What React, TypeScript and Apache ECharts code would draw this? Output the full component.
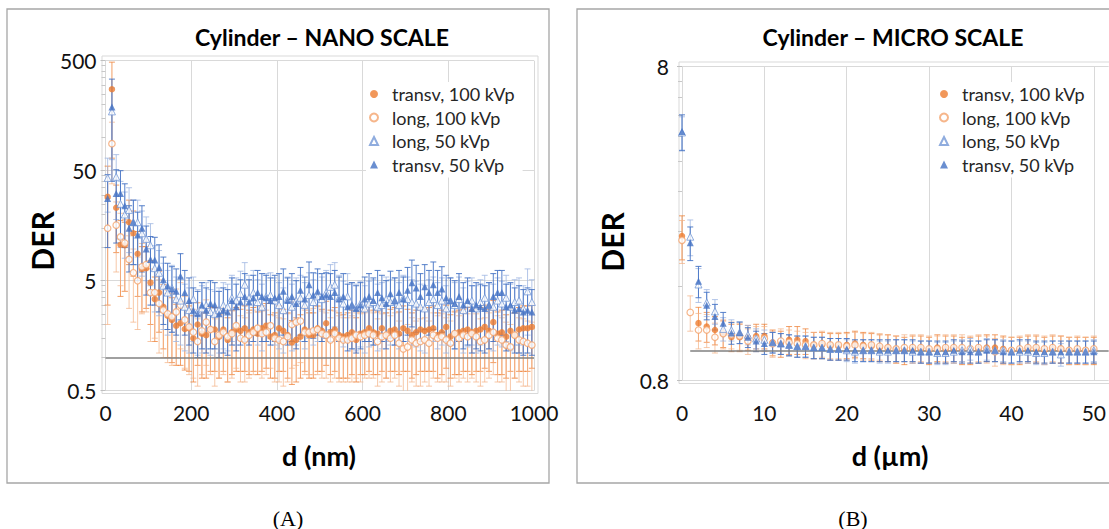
import React, { useEffect, useRef } from "react";
import * as echarts from "echarts";

// ---------- Panel A : nano scale ----------
const D_NANO = [5, 15, 25, 35, 45, 55, 65, 75, 85, 95, 105, 115, 125, 135, 145, 155, 165, 175, 185, 195, 205, 215, 225, 235, 245, 255, 265, 275, 285, 295, 305, 315, 325, 335, 345, 355, 365, 375, 385, 395, 405, 415, 425, 435, 445, 455, 465, 475, 485, 495, 505, 515, 525, 535, 545, 555, 565, 575, 585, 595, 605, 615, 625, 635, 645, 655, 665, 675, 685, 695, 705, 715, 725, 735, 745, 755, 765, 775, 785, 795, 805, 815, 825, 835, 845, 855, 865, 875, 885, 895, 905, 915, 925, 935, 945, 955, 965, 975, 985, 995];

const T100_NANO = [29, 275, 23, 10.6, 10.5, 17, 13.5, 8.8, 6.4, 6.5,
  4.8, 3.4, 3.9, 2.9, 2.4, 2.2, 1.95, 2.05, 1.82, 1.85,
  1.5, 2.0, 1.65, 1.6, 1.8, 1.8, 1.55, 1.8, 1.45, 1.7,
  1.8, 1.75, 1.85, 1.7, 1.8, 1.65, 1.85, 1.95, 1.55, 1.6,
  1.85, 1.75, 1.6, 1.37, 1.45, 1.55, 1.8, 1.6, 1.6, 1.85,
  1.75, 2.05, 1.7, 1.8, 1.6, 1.55, 1.6, 1.7, 1.45, 1.65,
  1.7, 1.85, 1.7, 1.65, 1.85, 1.6, 1.75, 1.8, 1.65, 1.85,
  1.75, 1.6, 1.7, 1.8, 1.75, 1.8, 1.85, 1.6, 1.7, 1.9,
  1.55, 1.65, 1.7, 1.75, 1.8, 1.7, 1.75, 1.8, 1.9, 1.75,
  2.1, 1.65, 1.7, 1.55, 1.75, 1.6, 1.8, 1.85, 1.85, 1.9];
const T100_NANO_ERR = [26, 210, 14, 7, 6.5, 10, 8, 5.2, 3.8, 3.7,
  2.8, 2.0, 2.2, 1.7, 1.4, 1.3, 1.1, 1.2, 1.05, 1.1,
  0.9, 1.15, 1.0, 0.95, 1.05, 1.05, 0.9, 1.05, 0.85, 1.0,
  1.05, 1.0, 1.1, 1.0, 1.05, 0.95, 1.1, 1.15, 0.9, 0.95,
  1.1, 1.0, 0.95, 0.8, 0.85, 0.9, 1.05, 0.95, 0.95, 1.1,
  1.0, 1.2, 1.0, 1.05, 0.95, 0.9, 0.95, 1.0, 0.85, 0.95,
  1.0, 1.1, 1.0, 0.95, 1.1, 0.95, 1.0, 1.05, 0.95, 1.1,
  1.0, 0.95, 1.0, 1.05, 1.0, 1.05, 1.1, 0.95, 1.0, 1.1,
  0.9, 0.95, 1.0, 1.0, 1.05, 1.0, 1.0, 1.05, 1.1, 1.0,
  1.2, 0.95, 1.0, 0.9, 1.0, 0.95, 1.05, 1.1, 1.1, 1.1];

const L100_NANO = [15, 88, 16, 12.5, 11, 7.8, 5.9, 5.0, 6.7, 7.0,
  3.9, 3.9, 3.1, 2.7, 2.5, 2.35, 2.6, 3.0, 2.2, 1.9,
  1.7, 1.4, 1.75, 2.1, 1.8, 1.4, 1.6, 1.7, 1.55, 1.65,
  1.95, 1.5, 1.45, 1.6, 1.7, 1.85, 1.65, 1.7, 1.95, 1.5,
  1.45, 1.4, 1.55, 2.0, 2.1, 2.15, 1.7, 1.7, 1.75, 1.8,
  1.65, 1.6, 1.45, 1.65, 1.5, 1.45, 1.45, 1.5, 1.6, 1.55,
  1.6, 1.65, 1.6, 1.4, 1.55, 1.6, 1.5, 1.6, 1.35, 1.2,
  1.25, 1.45, 1.35, 1.4, 1.45, 1.35, 1.6, 1.5, 1.55, 1.45,
  1.35, 1.65, 1.5, 1.6, 1.55, 1.65, 1.55, 1.4, 1.45, 1.6,
  1.7, 1.5, 1.45, 1.3, 1.25, 1.6, 1.45, 1.4, 1.35, 1.3];
const L100_NANO_ERR = [13, 50, 10, 8, 7, 5, 3.8, 3.2, 4.2, 4.4,
  2.5, 2.4, 2.0, 1.7, 1.6, 1.5, 1.6, 1.8, 1.4, 1.2,
  1.05, 0.85, 1.05, 1.25, 1.1, 0.85, 0.95, 1.0, 0.95, 1.0,
  1.15, 0.9, 0.85, 0.95, 1.0, 1.1, 1.0, 1.0, 1.15, 0.9,
  0.85, 0.85, 0.95, 1.2, 1.25, 1.25, 1.0, 1.0, 1.05, 1.1,
  1.0, 0.95, 0.85, 1.0, 0.9, 0.85, 0.85, 0.9, 0.95, 0.95,
  0.95, 1.0, 0.95, 0.85, 0.95, 0.95, 0.9, 0.95, 0.8, 0.7,
  0.75, 0.85, 0.8, 0.85, 0.85, 0.8, 0.95, 0.9, 0.95, 0.85,
  0.8, 1.0, 0.9, 0.95, 0.95, 1.0, 0.95, 0.85, 0.85, 0.95,
  1.0, 0.9, 0.85, 0.8, 0.75, 0.95, 0.85, 0.85, 0.8, 0.8];

const L50_NANO = [43, 173, 44, 25, 20, 22, 17, 17, 13.5, 12,
  10.5, 6.5, 5.9, 4.5, 3.9, 4.3, 3.4, 3.3, 2.9, 2.7,
  3.4, 2.6, 2.8, 3.0, 2.6, 2.5, 2.7, 3.0, 2.9, 3.5,
  3.3, 3.8, 4.6, 3.5, 3.9, 3.2, 2.9, 3.6, 3.7, 3.3,
  3.0, 2.7, 3.4, 2.9, 3.3, 3.5, 3.0, 3.7, 3.2, 3.6,
  3.4, 3.9, 4.4, 4.6, 3.5, 3.1, 3.6, 3.0, 2.9, 3.1,
  2.8, 3.1, 3.2, 2.9, 3.0, 3.4, 3.2, 3.3, 3.0, 3.5,
  3.4, 3.2, 3.1, 2.9, 2.8, 3.2, 3.4, 3.0, 3.3, 2.8,
  3.3, 3.0, 3.4, 2.7, 3.1, 3.3, 2.8, 3.2, 3.5, 3.0,
  2.9, 3.3, 3.1, 3.5, 2.9, 3.2, 3.3, 2.8, 4.0, 3.2];
const L50_NANO_ERR = [22, 110, 26, 15, 12, 13, 10, 10, 8, 7,
  6, 3.9, 3.5, 2.7, 2.3, 2.6, 2.0, 2.0, 1.75, 1.6,
  2.0, 1.55, 1.7, 1.8, 1.55, 1.5, 1.6, 1.8, 1.75, 2.1,
  2.0, 2.3, 2.7, 2.1, 2.3, 1.9, 1.75, 2.2, 2.2, 2.0,
  1.8, 1.6, 2.0, 1.75, 2.0, 2.1, 1.8, 2.2, 1.9, 2.2,
  2.0, 2.3, 2.6, 2.7, 2.1, 1.85, 2.2, 1.8, 1.75, 1.85,
  1.7, 1.85, 1.9, 1.75, 1.8, 2.0, 1.9, 2.0, 1.8, 2.1,
  2.0, 1.9, 1.85, 1.75, 1.7, 1.9, 2.0, 1.8, 2.0, 1.7,
  2.0, 1.8, 2.0, 1.6, 1.85, 2.0, 1.7, 1.9, 2.1, 1.8,
  1.75, 2.0, 1.85, 2.1, 1.75, 1.9, 2.0, 1.7, 2.4, 1.9];

const T50_NANO = [28, 190, 31, 31, 24, 15, 17, 13, 15, 9.7,
  7.8, 7.7, 6.6, 5.1, 4.5, 4.2, 4.0, 5.5, 3.9, 3.3,
  2.7, 2.5, 3.0, 2.7, 3.1, 3.0, 2.5, 2.7, 2.6, 3.3,
  2.9, 3.2, 3.6, 3.2, 3.5, 3.9, 3.6, 3.5, 3.3, 3.5,
  3.6, 4.0, 3.3, 3.6, 3.1, 4.1, 3.4, 4.6, 3.7, 4.0,
  3.6, 3.7, 3.6, 3.9, 3.4, 3.6, 2.9, 3.0, 2.8, 3.0,
  3.4, 3.6, 3.3, 3.9, 3.5, 3.1, 3.8, 3.3, 3.9, 3.4,
  4.1, 4.8, 4.3, 3.6, 4.4, 3.9, 4.6, 3.9, 4.2, 3.5,
  3.3, 3.1, 3.6, 3.0, 3.3, 2.8, 3.0, 2.9, 2.8, 3.0,
  3.6, 3.9, 3.9, 2.9, 3.0, 2.7, 2.8, 2.6, 2.7, 2.6];
const T50_NANO_ERR = [18, 150, 20, 19, 14, 9, 10, 8, 9, 6,
  4.8, 4.7, 4.0, 3.1, 2.7, 2.5, 2.4, 3.3, 2.3, 2.0,
  1.6, 1.5, 1.8, 1.6, 1.9, 1.8, 1.5, 1.6, 1.55, 2.0,
  1.75, 1.9, 2.2, 1.9, 2.1, 2.3, 2.2, 2.1, 2.0, 2.1,
  2.2, 2.4, 2.0, 2.2, 1.9, 2.5, 2.0, 2.8, 2.2, 2.4,
  2.2, 2.2, 2.2, 2.3, 2.0, 2.2, 1.75, 1.8, 1.7, 1.8,
  2.0, 2.2, 2.0, 2.3, 2.1, 1.9, 2.3, 2.0, 2.3, 2.0,
  2.5, 2.9, 2.6, 2.2, 2.6, 2.3, 2.8, 2.3, 2.5, 2.1,
  2.0, 1.9, 2.2, 1.8, 2.0, 1.7, 1.8, 1.75, 1.7, 1.8,
  2.2, 2.3, 2.3, 1.75, 1.8, 1.6, 1.7, 1.55, 1.6, 1.55];

// ---------- Panel B : micro scale ----------
const D_MICRO = [0, 1, 2, 3, 4, 5, 6, 7, 8, 9, 10, 11, 12, 13, 14, 15, 16, 17, 18, 19, 20, 21, 22, 23, 24, 25, 26, 27, 28, 29, 30, 31, 32, 33, 34, 35, 36, 37, 38, 39, 40, 41, 42, 43, 44, 45, 46, 47, 48, 49, 50];

const T100_MICRO = [2.31, null, 1.22, 1.19, 1.16, 1.13, 1.10, 1.10, 1.10, 1.11,
  1.11, 1.06, 1.05, 1.08, 1.08, 1.07, 1.04, 1.04, 1.03, 1.03,
  1.04, 1.05, 1.04, 1.03, 1.02, 1.02, 1.01, 1.00, 1.01, 1.01,
  1.00, 1.02, 1.01, 1.01, 1.00, 1.00, 1.01, 1.02, 1.02, 1.01,
  1.00, 1.00, 1.01, 1.01, 1.00, 1.01, 1.01, 1.00, 1.00, 1.00, 1.00];
const T100_MICRO_ERR = [0.37, null, 0.15, 0.13, 0.12, 0.11, 0.11, 0.11, 0.10, 0.10,
  0.10, 0.10, 0.10, 0.11, 0.11, 0.10, 0.10, 0.10, 0.10, 0.10,
  0.10, 0.10, 0.10, 0.10, 0.10, 0.10, 0.10, 0.10, 0.10, 0.10,
  0.10, 0.10, 0.10, 0.10, 0.10, 0.10, 0.10, 0.10, 0.10, 0.10,
  0.10, 0.10, 0.10, 0.10, 0.10, 0.10, 0.10, 0.10, 0.10, 0.10, 0.10];

const L100_MICRO = [2.24, 1.32, 1.16, 1.16, 1.10, 1.13, 1.12, 1.11, 1.07, 1.09,
  1.09, 1.05, 1.07, 1.06, 1.05, 1.04, 1.04, 1.05, 1.04, 1.04,
  1.03, 1.04, 1.03, 1.04, 1.03, 1.02, 1.01, 1.02, 1.02, 1.02,
  1.01, 1.01, 1.02, 1.02, 1.02, 1.01, 1.02, 1.01, 0.99, 1.00,
  1.00, 1.01, 1.02, 1.02, 1.01, 1.02, 1.01, 1.00, 1.01, 1.00, 1.01];
const L100_MICRO_ERR = [0.35, 0.17, 0.15, 0.14, 0.12, 0.12, 0.11, 0.11, 0.10, 0.10,
  0.10, 0.10, 0.10, 0.10, 0.10, 0.10, 0.10, 0.10, 0.10, 0.10,
  0.10, 0.10, 0.10, 0.10, 0.10, 0.10, 0.10, 0.10, 0.10, 0.10,
  0.10, 0.10, 0.10, 0.10, 0.10, 0.10, 0.10, 0.10, 0.10, 0.10,
  0.10, 0.10, 0.10, 0.10, 0.10, 0.10, 0.10, 0.10, 0.10, 0.10, 0.10];

const L50_MICRO = [4.94, 2.30, 1.62, 1.42, 1.33, 1.17, 1.16, 1.14, 1.12, 1.09,
  1.08, 1.06, 1.05, 1.04, 1.03, 1.03, 1.02, 1.02, 1.01, 1.01,
  1.00, 0.99, 1.00, 1.00, 0.99, 0.99, 1.00, 1.00, 0.99, 0.99,
  0.99, 0.98, 0.98, 0.99, 1.00, 1.01, 0.99, 1.01, 1.00, 1.00,
  0.99, 0.99, 0.99, 0.98, 0.98, 0.99, 0.97, 0.99, 0.99, 0.99, 1.00];
const L50_MICRO_ERR = [0.60, 0.30, 0.20, 0.14, 0.12, 0.10, 0.09, 0.09, 0.08, 0.08,
  0.08, 0.08, 0.08, 0.08, 0.08, 0.08, 0.08, 0.08, 0.08, 0.08,
  0.08, 0.08, 0.08, 0.08, 0.08, 0.08, 0.08, 0.08, 0.08, 0.08,
  0.08, 0.08, 0.08, 0.08, 0.08, 0.08, 0.08, 0.08, 0.08, 0.08,
  0.08, 0.08, 0.08, 0.08, 0.08, 0.08, 0.08, 0.08, 0.08, 0.08, 0.08];

const T50_MICRO = [4.97, 2.20, 1.66, 1.39, 1.28, 1.22, 1.135, 1.14, 1.10, 1.07,
  1.05, 1.06, 1.05, 1.04, 1.03, 1.03, 1.02, 1.02, 1.01, 1.01,
  1.01, 1.00, 1.00, 1.00, 1.00, 1.00, 1.00, 1.00, 1.00, 0.99,
  0.99, 0.99, 0.99, 1.00, 0.99, 0.99, 0.99, 1.00, 1.00, 0.99,
  0.99, 1.00, 1.00, 0.99, 0.99, 0.99, 0.99, 0.99, 0.99, 0.99, 0.99];
const T50_MICRO_ERR = [0.65, 0.27, 0.19, 0.14, 0.12, 0.10, 0.09, 0.09, 0.08, 0.08,
  0.08, 0.08, 0.08, 0.08, 0.08, 0.08, 0.08, 0.08, 0.08, 0.08,
  0.08, 0.08, 0.08, 0.08, 0.08, 0.08, 0.08, 0.08, 0.08, 0.08,
  0.08, 0.08, 0.08, 0.08, 0.08, 0.08, 0.08, 0.08, 0.08, 0.08,
  0.08, 0.08, 0.08, 0.08, 0.08, 0.08, 0.08, 0.08, 0.08, 0.08, 0.08];

// ---------- axes ----------
const X_TICKS_NANO = [0, 200, 400, 600, 800, 1000];
const Y_TICKS_NANO = [0.5, 5, 50, 500];
const Y_MINOR_NANO = [1, 1.5, 2, 2.5, 3, 3.5, 4, 4.5, 10, 15, 20, 25, 30, 35, 40, 45, 100, 150, 200, 250, 300, 350, 400, 450];
const X_TICKS_MICRO = [0, 10, 20, 30, 40, 50];
const X_MAX_MICRO = 51.8;
const Y_TICKS_MICRO = [0.8, 8];
const Y_MINOR_MICRO = [1.6, 2.4, 3.2, 4.0, 4.8, 5.6, 6.4, 7.2];
const BASELINE = 1;
const BASELINE_START_MICRO = 1;

const NAMES = ["transv, 100 kVp", "long, 100 kVp", "long, 50 kVp", "transv, 50 kVp"];

const FONT = "Lato";
const GRID_C = "#d9d9d9";

const fmt = (v: number) => String(parseFloat(Number(v).toPrecision(6)));

function pts(xs: number[], ys: (number | null)[]) {
  const out: number[][] = [];
  xs.forEach((x, i) => { if (ys[i] != null) out.push([x, ys[i] as number]); });
  return out;
}
function errPts(xs: number[], ys: (number | null)[], es: (number | null)[], floor: number) {
  const out: number[][] = [];
  xs.forEach((x, i) => {
    const v = ys[i], e = es[i];
    if (v == null || e == null) return;
    const lo = v - e;
    out.push([x, lo > floor ? lo : floor, v + e, lo > floor ? 1 : 0]);
  });
  return out;
}
const errRender = (color: string, opacity: number) => (params: any, api: any) => {
  const x = api.value(0), lo = api.value(1), hi = api.value(2), cap = api.value(3);
  const pl = api.coord([x, lo]);
  const ph = api.coord([x, hi]);
  const style = { stroke: color, lineWidth: 1, opacity };
  const children: any[] = [
    { type: "line", shape: { x1: pl[0], y1: pl[1], x2: ph[0], y2: ph[1] }, style },
    { type: "line", shape: { x1: ph[0] - 3, y1: ph[1], x2: ph[0] + 3, y2: ph[1] }, style },
  ];
  if (cap) children.push({ type: "line", shape: { x1: pl[0] - 3, y1: pl[1], x2: pl[0] + 3, y2: pl[1] }, style });
  return { type: "group", children };
};

const STYLES = [
  { name: NAMES[0], symbol: "circle", size: 6.5, item: { color: "#ED7D31" }, err: "#ED7D31", eo: 0.75 },
  { name: NAMES[1], symbol: "circle", size: 6.5, item: { color: "#ffffff", borderColor: "#F4A46E", borderWidth: 1.2 }, err: "#F4B183", eo: 0.7 },
  { name: NAMES[2], symbol: "triangle", size: 7, item: { color: "#ffffff", borderColor: "#7397D6", borderWidth: 1 }, err: "#9FB6E2", eo: 0.8 },
  { name: NAMES[3], symbol: "triangle", size: 7, item: { color: "#4472C4" }, err: "#4472C4", eo: 0.9 },
];

function panelSeries(xi: number, yi: number, xs: number[], sets: any[][], floor: number, refStart: number, refEnd: number) {
  const s: any[] = [];
  sets.forEach(([ys, es], k) => {
    s.push({
      type: "custom", name: "err-" + xi + "-" + k, xAxisIndex: xi, yAxisIndex: yi, z: 2, silent: true,
      renderItem: errRender(STYLES[k].err, STYLES[k].eo), data: errPts(xs, ys, es, floor),
      encode: { x: 0, y: [1, 2] },
    });
  });
  s.push({
    type: "line", name: "baseline-" + xi, xAxisIndex: xi, yAxisIndex: yi, data: [], silent: true,
    markLine: {
      symbol: ["none", "none"], silent: true, label: { show: false }, z: 3,
      lineStyle: { color: "#808080", width: 1.6, type: "solid" },
      data: [[{ coord: [refStart, BASELINE] }, { coord: [refEnd, BASELINE] }]],
    },
  });
  sets.forEach(([ys], k) => {
    const st = STYLES[k];
    s.push({
      type: "scatter", name: st.name, xAxisIndex: xi, yAxisIndex: yi, z: 4,
      symbol: st.symbol, symbolSize: st.size, itemStyle: st.item, data: pts(xs, ys),
    });
  });
  return s;
}

const labelStyle = { fontFamily: FONT, fontSize: 21, color: "#111" };

const option: any = {
  animation: false,
  backgroundColor: "#ffffff",
  grid: [
    { left: 105.5, top: 60.7, width: 428.5, height: 330 },
    { left: 682, top: 66.7, width: 427, height: 314 },
  ],
  xAxis: [
    {
      type: "value", gridIndex: 0, min: 0, max: 1000, interval: 200,
      axisLine: { show: false }, axisTick: { show: false, customValues: X_TICKS_NANO },
      axisLabel: { ...labelStyle, margin: 11, customValues: X_TICKS_NANO, formatter: fmt },
      splitLine: { show: true, lineStyle: { color: GRID_C, width: 1 } },
    },
    {
      type: "value", gridIndex: 1, min: 0, max: X_MAX_MICRO,
      axisLine: { show: false }, axisTick: { show: false, customValues: X_TICKS_MICRO },
      axisLabel: { ...labelStyle, margin: 21, customValues: X_TICKS_MICRO, formatter: fmt },
      splitLine: { show: true, lineStyle: { color: GRID_C, width: 1 } },
    },
  ],
  yAxis: [
    {
      type: "log", logBase: 10, gridIndex: 0, min: 0.5, max: 500, position: "left",
      axisLine: { show: false },
      axisTick: { show: true, length: 5, customValues: Y_TICKS_NANO, lineStyle: { color: "#bfbfbf" } },
      axisLabel: { ...labelStyle, margin: 9, customValues: Y_TICKS_NANO, formatter: fmt },
      splitLine: { show: true, lineStyle: { color: GRID_C, width: 1 } },
    },
    {
      type: "log", logBase: 10, gridIndex: 1, min: 0.8, max: 8, position: "left",
      axisLine: { show: false },
      axisTick: { show: true, length: 5, customValues: Y_TICKS_MICRO, lineStyle: { color: "#bfbfbf" } },
      axisLabel: { ...labelStyle, margin: 13, customValues: Y_TICKS_MICRO, formatter: fmt },
      splitLine: { show: true, lineStyle: { color: GRID_C, width: 1 } },
    },
    {
      type: "log", logBase: 10, gridIndex: 0, min: 0.5, max: 500, position: "left", offset: 0,
      axisLine: { show: false }, axisLabel: { show: false }, splitLine: { show: false },
      axisTick: { show: true, length: 4, customValues: Y_MINOR_NANO, lineStyle: { color: "#c8c8c8" } },
    },
    {
      type: "log", logBase: 10, gridIndex: 1, min: 0.8, max: 8, position: "left", offset: 0,
      axisLine: { show: false }, axisLabel: { show: false }, splitLine: { show: false },
      axisTick: { show: true, length: 4, customValues: Y_MINOR_MICRO, lineStyle: { color: "#c8c8c8" } },
    },
  ],
  legend: [
    {
      orient: "vertical", left: 366, top: 82, itemWidth: 8, itemHeight: 8, itemGap: 5.5,
      padding: [3, 8, 4, 3], backgroundColor: "#ffffff", data: NAMES, selectedMode: false,
      textStyle: { fontFamily: FONT, fontSize: 18, color: "#262626", lineHeight: 18, padding: [0, 0, 0, 9] },
    },
    {
      orient: "vertical", left: 936, top: 82, itemWidth: 8, itemHeight: 8, itemGap: 5.5,
      padding: [3, 8, 4, 3], backgroundColor: "#ffffff", data: NAMES, selectedMode: false,
      textStyle: { fontFamily: FONT, fontSize: 18, color: "#262626", lineHeight: 18, padding: [0, 0, 0, 9] },
    },
  ],
  graphic: [
    { type: "rect", shape: { x: 7, y: 9, width: 542, height: 474 }, style: { fill: "none", stroke: "#a6a6a6", lineWidth: 1.3 }, silent: true },
    { type: "rect", shape: { x: 577, y: 9, width: 560, height: 474 }, style: { fill: "none", stroke: "#a6a6a6", lineWidth: 1.3 }, silent: true },
    { type: "rect", shape: { x: 102, y: 56, width: 436, height: 337.5 }, style: { fill: "none", stroke: GRID_C, lineWidth: 1 }, silent: true },
    { type: "rect", shape: { x: 679, y: 62, width: 460, height: 321.5 }, style: { fill: "none", stroke: GRID_C, lineWidth: 1 }, silent: true },
    { type: "text", x: 322, y: 37, style: { text: "Cylinder – NANO SCALE", font: `bold 23px ${FONT}`, fill: "#000", align: "center", verticalAlign: "middle" } },
    { type: "text", x: 893, y: 37, style: { text: "Cylinder – MICRO SCALE", font: `bold 23px ${FONT}`, fill: "#000", align: "center", verticalAlign: "middle" } },
    { type: "text", x: 42, y: 241, rotation: Math.PI / 2, style: { text: "DER", font: `bold 30px ${FONT}`, fill: "#000", align: "center", verticalAlign: "middle" } },
    { type: "text", x: 612, y: 242, rotation: Math.PI / 2, style: { text: "DER", font: `bold 30px ${FONT}`, fill: "#000", align: "center", verticalAlign: "middle" } },
    { type: "text", x: 319, y: 455, style: { text: "d (nm)", font: `bold 27px ${FONT}`, fill: "#000", align: "center", verticalAlign: "middle" } },
    { type: "text", x: 890, y: 455, style: { text: "d (µm)", font: `bold 27px ${FONT}`, fill: "#000", align: "center", verticalAlign: "middle" } },
    { type: "text", x: 288, y: 518, style: { text: "(A)", font: `22px "Liberation Serif"`, fill: "#000", align: "center", verticalAlign: "middle" } },
    { type: "text", x: 853, y: 518, style: { text: "(B)", font: `22px "Liberation Serif"`, fill: "#000", align: "center", verticalAlign: "middle" } },
  ],
  series: [
    ...panelSeries(0, 0, D_NANO, [
      [T100_NANO, T100_NANO_ERR], [L100_NANO, L100_NANO_ERR], [L50_NANO, L50_NANO_ERR], [T50_NANO, T50_NANO_ERR],
    ], 0.5, 0, 1000),
    ...panelSeries(1, 1, D_MICRO, [
      [T100_MICRO, T100_MICRO_ERR], [L100_MICRO, L100_MICRO_ERR], [L50_MICRO, L50_MICRO_ERR], [T50_MICRO, T50_MICRO_ERR],
    ], 0.8, BASELINE_START_MICRO, X_MAX_MICRO),
  ],
};

export default function App() {
  const ref = useRef<HTMLDivElement>(null);
  useEffect(() => {
    if (!ref.current) return;
    const chart = echarts.init(ref.current, null, { renderer: "svg" });
    chart.setOption(option);
    return () => chart.dispose();
  }, []);
  return (
    <div
      ref={ref}
      style={{ position: "absolute", left: 0, top: 0, width: 1109, height: 529, background: "#fff" }}
    />
  );
}
